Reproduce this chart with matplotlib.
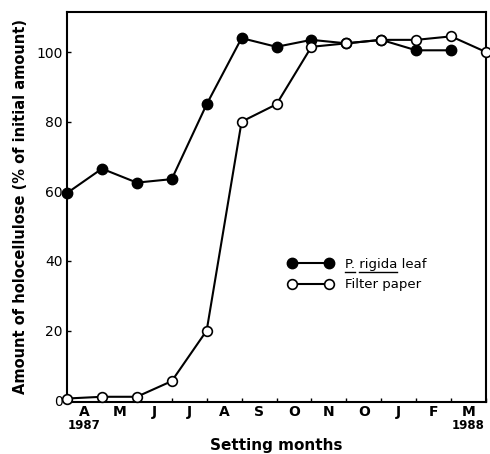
import matplotlib
matplotlib.use("Agg")
import matplotlib.pyplot as plt
from matplotlib.lines import Line2D

months = ["A", "M", "J", "J", "A", "S", "O", "N", "O", "J", "F", "M"]
leaf_x = [0, 1, 2, 3, 4, 5, 6, 7, 8, 9, 10, 11]
leaf_y = [59.5, 66.5, 62.5, 63.5, 85, 104, 101.5, 103.5, 102.5, 103.5, 100.5, 100.5]
paper_x = [0, 1, 2, 3, 4, 5, 6, 7, 8, 9, 10, 11, 12]
paper_y = [0.5, 1, 1, 5.5, 20, 80, 85, 101.5, 102.5, 103.5, 103.5, 104.5, 100]
yticks = [0, 20, 40, 60, 80, 100]

plt.rcParams['font.family'] = ['DejaVu Sans']
fig = plt.figure(figsize=(4.9, 4.54), dpi=100)
ax = fig.add_axes([67/490, 52/454, 419/490, 390/454])

ax.plot(leaf_x, leaf_y, '-o', color='black', lw=1.5, ms=7.5, mfc='black',
        mec='black', clip_on=False, zorder=3, label='P. rigida leaf')
ax.plot(paper_x, paper_y, '-o', color='black', lw=1.5, ms=7, mfc='white',
        mec='black', mew=1.2, clip_on=False, zorder=4, label='Filter paper')

ax.set_xlim(0, 12)
ax.set_ylim(-0.5, 111.5)
ax.set_yticks(yticks)
ax.set_yticklabels([str(v) for v in yticks], fontsize=10)
ax.set_xticks(range(0, 13))
ax.set_xticklabels([])
ax.set_xticks([i + 0.5 for i in range(12)], minor=True)
ax.set_xticklabels(months, minor=True, fontsize=10, fontweight='bold')
ax.tick_params(axis='both', which='major', direction='in', length=3, width=1)
ax.tick_params(axis='x', which='minor', length=0, pad=2)
ax.tick_params(axis='y', pad=3)
for s in ax.spines.values():
    s.set_linewidth(1.5)

ax.text(0.5, -0.044, "1987", transform=ax.get_xaxis_transform(), ha='center',
        va='top', fontsize=8.5, fontweight='bold')
ax.text(11.5, -0.044, "1988", transform=ax.get_xaxis_transform(), ha='center',
        va='top', fontsize=8.5, fontweight='bold')

ax.set_xlabel("Setting months", fontsize=11, fontweight='bold', labelpad=14)
ax.set_ylabel("Amount of holocellulose (% of initial amount)", fontsize=10.5,
              fontweight='bold', labelpad=6)

leg = ax.legend(loc='upper left', bbox_to_anchor=(0.5, 0.40), frameon=False,
                fontsize=9.5, handlelength=3.4, numpoints=2, handletextpad=0.9,
                labelspacing=0.55)

fig.canvas.draw()
r = fig.canvas.get_renderer()
t = leg.get_texts()[0]
bb = t.get_window_extent(r)
prop = t.get_fontproperties()
def w(s):
    return r.get_text_width_height_descent(s, prop, ismath=False)[0]
y0 = bb.y0 - 1.0
x0 = bb.x0
segs = [(x0, x0 + w("P.")), (x0 + w("P. "), x0 + w("P. rigida"))]
inv = fig.transFigure.inverted()
for a, b in segs:
    (fa, fy), (fb, _) = inv.transform([(a, y0), (b, y0)])
    fig.add_artist(Line2D([fa, fb], [fy, fy], color='black', lw=1))

fig.savefig("out.png", dpi=100)
